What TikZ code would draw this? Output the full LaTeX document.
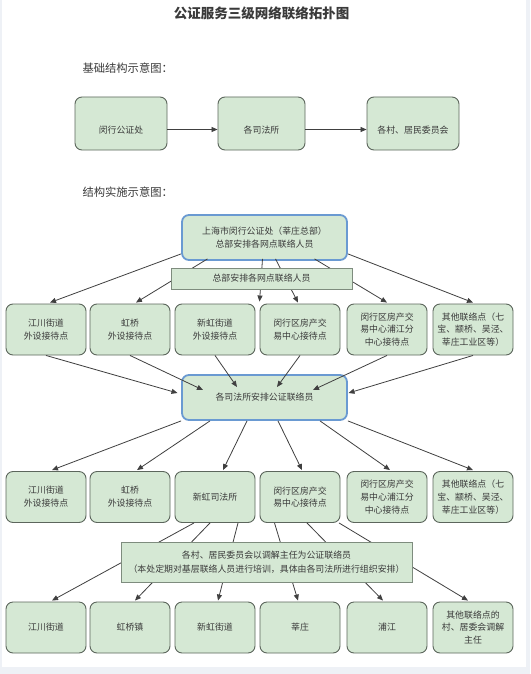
\documentclass[tikz,border=0pt]{standalone}
\usepackage{fontspec}
\setmainfont{Noto Sans CJK SC}
\usepackage{tikz}
\usetikzlibrary{arrows.meta,calc}
\definecolor{boxgreen}{HTML}{D5E8D4}
\definecolor{boxline}{HTML}{5C665C}
\definecolor{barline}{HTML}{7E8C7E}
\definecolor{hubblue}{HTML}{6A9AD2}
\definecolor{linkgray}{HTML}{404040}
\definecolor{txt}{HTML}{3A3A3A}
\definecolor{frame}{HTML}{EEF1F6}

\begin{document}
\begin{tikzpicture}[x=1pt,y=-1pt,
  box/.style={draw=boxline,fill=boxgreen,rounded corners=7pt,line width=0.9pt,minimum width=80pt,minimum height=51pt,
    align=center,text=txt,inner sep=1pt,font=\fontsize{8.9}{12.8}\selectfont},
  hub/.style={box,draw=hubblue,line width=1.8pt,minimum width=165pt,minimum height=45pt},
  bar/.style={draw=barline,fill=boxgreen,line width=0.8pt,align=center,text=txt,inner sep=1pt,font=\fontsize{8.9}{13.5}\selectfont},
  link/.style={draw=linkgray,line width=0.8pt,-{Triangle[length=6pt,width=5pt]}},
  heading/.style={anchor=west,text=txt,font=\fontsize{11.3}{13}\selectfont}]
\fill[frame] (0,0) rectangle (530,674); \fill[white] (2,0) rectangle (526,667);

\node[text=txt,font=\fontsize{13.5}{16}\selectfont\bfseries] (title) at (261.5,13) {公证服务三级网络联络拓扑图};

% basic structure
\node[heading] (basic) at (79,68) {基础结构示意图：};
\node[box,minimum width=92pt,minimum height=53pt,text height=22pt,text depth=3pt] (b1) at (121,123.5) {闵行公证处};
\node[box,minimum width=87pt,minimum height=53pt,text height=22pt,text depth=3pt] (b2) at (261.5,123.5) {各司法所};
\node[box,minimum width=92pt,minimum height=53pt,text height=22pt,text depth=3pt] (b3) at (413,123.5) {各村、居民委员会};
\draw[link] ($(b1.east)+(0,6)$) -- ($(b2.west)+(0,6)$);
\draw[link] ($(b2.east)+(0,6)$) -- ($(b3.west)+(0,6)$);

% implementation
\node[heading] (impl) at (79,192) {结构实施示意图：};
\node[hub] (hq) at (264.5,237.5) {上海市闵行公证处（莘庄总部）\\总部安排各网点联络人员};

\node[box] (r2a) at (46,329.5) {江川街道\\外设接待点};
\node[box] (r2b) at (130,329.5) {虹桥\\外设接待点};
\node[box] (r2c) at (215,329.5) {新虹街道\\外设接待点};
\node[box] (r2d) at (300,329.5) {闵行区房产交\\易中心接待点};
\node[box] (r2e) at (387,329.5) {闵行区房产交\\易中心浦江分\\中心接待点};
\node[box] (r2f) at (473,329.5) {其他联络点（七\\宝、颛桥、吴泾、\\莘庄工业区等）};

\node[hub] (mid) at (264.5,397.5) {各司法所安排公证联络员};

\node[box] (r3a) at (46,497) {江川街道\\外设接待点};
\node[box] (r3b) at (130,497) {虹桥\\外设接待点};
\node[box] (r3c) at (215,497) {新虹司法所};
\node[box] (r3d) at (300,497) {闵行区房产交\\易中心接待点};
\node[box] (r3e) at (387,497) {闵行区房产交\\易中心浦江分\\中心接待点};
\node[box] (r3f) at (473,497) {其他联络点（七\\宝、颛桥、吴泾、\\莘庄工业区等）};

\node[box] (r4a) at (46,627.5) {江川街道};
\node[box] (r4b) at (130,627.5) {虹桥镇};
\node[box] (r4c) at (215,627.5) {新虹街道};
\node[box] (r4d) at (300,627.5) {莘庄};
\node[box] (r4e) at (387,627.5) {浦江};
\node[box] (r4f) at (473,627.5) {其他联络点的\\村、居委会调解\\主任};

% headquarters to outlets
\draw[link] ($(hq.south west)+(0,-7)$) -- ($(r2a.north)+(4,-1)$);
\draw[link] ($(hq.south)+(-57,-2)$) -- ($(r2b.north)+(6,-1)$);
\draw[link] ($(hq.south)+(-2,-2)$) -- ($(r2d.north west)+(0,-2)$);
\draw[link] ($(hq.south)+(11,-2)$) -- ($(r2d.north)+(-2,-1)$);
\draw[link] ($(hq.south)+(50,-2)$) -- ($(r2e.north)+(0,-1)$);
\draw[link] ($(hq.south east)+(0,-7)$) -- ($(r2f.north)+(0,-1)$);

% outlets to offices
\draw[link] (r2a.south) -- ($(mid.center)+(-87,-4.5)$);
\draw[link] (r2b.south) -- ($(mid.center)+(-61.5,-7.5)$);
\draw[link] (r2c.south) -- ($(mid.center)+(-27.5,-10.5)$);
\draw[link] (r2d.south) -- ($(mid.center)+(12.5,-10.5)$);
\draw[link] (r2e.south) -- ($(mid.center)+(48.5,-7.5)$);
\draw[link] (r2f.south) -- ($(mid.center)+(84,-4.5)$);

\draw[link] (mid.south west) -- ($(r3a.north)+(6,-1)$);
\draw[link] ($(mid.south)+(-54.5,0)$) -- ($(r3b.north)+(7,-1)$);
\draw[link] ($(mid.south)+(-17.5,0)$) -- ($(r3c.north)+(8,-1)$);
\draw[link] ($(mid.south)+(13.5,0)$) -- ($(r3d.north)+(2,-1)$);
\draw[link] ($(mid.south)+(55.5,0)$) -- ($(r3e.north)+(3,-1)$);
\draw[link] (mid.south east) -- ($(r3f.north)+(0,-1)$);

% villages
\draw[link] ($(r3c.south)+(-21,0)$) -- ($(r4a.north)+(6,-1)$);
\draw[link] ($(r3c.south)+(-5,0)$) -- ($(r4b.north)+(5,-1)$);
\draw[link] ($(r3c.south)+(23,0)$) -- ($(r4c.north)+(3,-1)$);
\draw[link] ($(r3d.south)+(-25.5,0)$) -- ($(r4d.north)+(-2,-1)$);
\draw[link] ($(r3d.south)+(7,0)$) -- ($(r4e.north)+(-4,-1)$);
\draw[link] ($(r3d.south)+(39,0)$) -- ($(r4f.north)+(-5,-1)$);

% bars on top of the links
\node[bar,minimum width=181pt,minimum height=21pt] (sub) at (261.5,278.5) {总部安排各网点联络人员};
\node[bar,minimum width=291pt,minimum height=40pt] (note) at (266.5,562) {各村、居民委员会以调解主任为公证联络员\\（本处定期对基层联络人员进行培训，具体由各司法所进行组织安排）};
\end{tikzpicture}
\end{document}
